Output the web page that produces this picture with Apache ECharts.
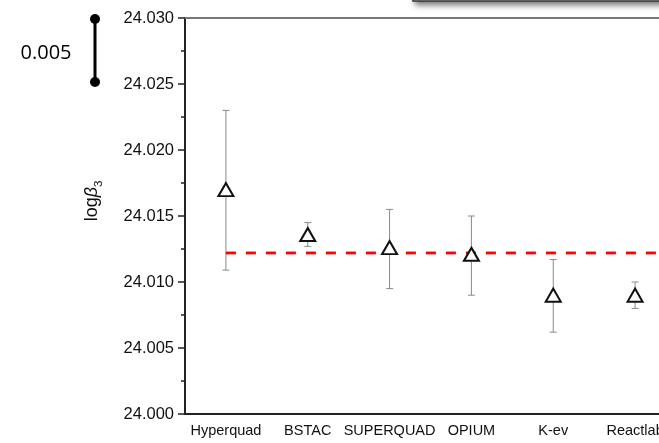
<!DOCTYPE html>
<html>
<head>
<meta charset="utf-8">
<script src="https://cdn.jsdelivr.net/npm/echarts@6/dist/echarts.min.js"></script>
<style>html,body{margin:0;padding:0;background:#fff}#c{width:659px;height:443px}</style>
</head>
<body>
<div id="c"></div>
<script>
const categories = ['Hyperquad', 'BSTAC', 'SUPERQUAD', 'OPIUM', 'K-ev', 'Reactlab'];
const values = [24.0170, 24.0136, 24.0126, 24.0121, 24.0090, 24.0090];
const errLow = [24.0109, 24.0127, 24.0095, 24.0090, 24.0062, 24.0080];
const errHigh = [24.0230, 24.0145, 24.0155, 24.0150, 24.0117, 24.0100];
const refValue = 24.0122;
const yTicks = [24.000, 24.005, 24.010, 24.015, 24.020, 24.025, 24.030];
const scaleBar = [24.030, 24.025];
const scaleBarLabel = '0.005';

const FONT = '"Liberation Sans", Arial, sans-serif';
const chart = echarts.init(document.getElementById('c'), null, {renderer: 'canvas'});

const errData = categories.map((c, i) => [i, errLow[i], errHigh[i]]);

chart.setOption({
  animation: false,
  backgroundColor: '#fff',
  grid: {left: 185, width: 491, top: 18, bottom: 29, containLabel: false, outerBoundsMode: 'none'},
  xAxis: [{
    type: 'category',
    data: categories,
    boundaryGap: true,
    axisLine: {lineStyle: {color: '#222', width: 2}},
    axisTick: {alignWithLabel: true, length: 7, lineStyle: {color: '#222', width: 1.5}},
    axisLabel: {color: '#111', fontSize: 14.5, fontFamily: FONT, margin: 9, interval: 0},
    splitLine: {show: false}
  }, {
    type: 'category',
    position: 'top',
    data: categories,
    axisLine: {lineStyle: {color: '#777', width: 2}},
    axisTick: {show: false},
    axisLabel: {show: false},
    splitLine: {show: false}
  }],
  yAxis: {
    type: 'value',
    min: yTicks[0],
    max: yTicks[yTicks.length - 1],
    interval: 0.005,
    name: '{a|log}{b|β}{c|3}',
    nameLocation: 'middle',
    nameRotate: 90,
    nameGap: 84,
    nameTextStyle: {
      padding: [0, 0, 0, 30],
      rich: {
        a: {fontSize: 18, fontFamily: FONT, color: '#111', lineHeight: 22, verticalAlign: 'bottom'},
        b: {fontSize: 18, fontFamily: FONT, fontStyle: 'italic', color: '#111', lineHeight: 22, verticalAlign: 'bottom'},
        c: {fontSize: 11.5, fontFamily: FONT, color: '#111', lineHeight: 22, verticalAlign: 'bottom', padding: [0, 0, -4, 0]}
      }
    },
    axisLine: {show: true, lineStyle: {color: '#222', width: 2}},
    axisTick: {show: true, length: 7, lineStyle: {color: '#222', width: 1.5}},
    minorTick: {show: true, splitNumber: 2, length: 4, lineStyle: {color: '#222', width: 1.5}},
    axisLabel: {color: '#111', fontSize: 16.5, fontFamily: FONT, margin: 11, formatter: v => v.toFixed(3)},
    splitLine: {show: false}
  },
  series: [
    {
      type: 'custom',
      name: 'err',
      data: errData,
      z: 2,
      renderItem: function (params, api) {
        const x = api.value(0);
        const lo = api.coord([x, api.value(1)]);
        const hi = api.coord([x, api.value(2)]);
        const cw = 3.5;
        const st = {stroke: '#8a8a8a', lineWidth: 1};
        return {type: 'group', children: [
          {type: 'line', shape: {x1: lo[0], y1: lo[1], x2: hi[0], y2: hi[1]}, style: st},
          {type: 'line', shape: {x1: lo[0] - cw, y1: lo[1], x2: lo[0] + cw, y2: lo[1]}, style: st},
          {type: 'line', shape: {x1: hi[0] - cw, y1: hi[1], x2: hi[0] + cw, y2: hi[1]}, style: st}
        ]};
      }
    },
    {
      type: 'custom',
      name: 'ref',
      data: [[0, refValue]],
      z: 3,
      clip: false,
      renderItem: function (params, api) {
        const p = api.coord([api.value(0), api.value(1)]);
        return {type: 'line', shape: {x1: p[0], y1: p[1], x2: api.getWidth() + 20, y2: p[1]},
          style: {stroke: '#ff0000', lineWidth: 2.8, lineDash: [10, 10]}};
      }
    },
    {
      type: 'scatter',
      data: values.map((v, i) => [i, v]),
      symbol: 'triangle',
      symbolSize: [15, 13],
      z: 5,
      itemStyle: {color: '#fff', borderColor: '#111', borderWidth: 2, opacity: 1}
    },
    {
      type: 'custom',
      name: 'scalebar',
      data: [[0, scaleBar[0], scaleBar[1]]],
      clip: false,
      z: 5,
      renderItem: function (params, api) {
        const t = api.coord([0, api.value(1)]);
        const b = api.coord([0, api.value(2)]);
        const x = 95;
        return {type: 'group', children: [
          {type: 'line', shape: {x1: x, y1: t[1] + 1, x2: x, y2: b[1] - 2}, style: {stroke: '#000', lineWidth: 3}},
          {type: 'circle', shape: {cx: x, cy: t[1] + 1, r: 5}, style: {fill: '#000'}},
          {type: 'circle', shape: {cx: x, cy: b[1] - 2, r: 5}, style: {fill: '#000'}},
          {type: 'text', style: {text: scaleBarLabel, x: 46, y: (t[1] + b[1]) / 2 + 2, align: 'center', verticalAlign: 'middle',
            font: '20px "Open Sans", "Noto Sans", sans-serif', fill: '#000'}}
        ]};
      }
    }
  ],
  graphic: [{
    type: 'rect',
    shape: {x: 413, y: -40, width: 300, height: 41},
    style: {fill: '#fff', stroke: '#333', lineWidth: 1.5, shadowBlur: 6, shadowOffsetX: 3, shadowOffsetY: 3, shadowColor: 'rgba(0,0,0,0.55)'},
    z: 10
  }]
});
</script>
</body>
</html>
